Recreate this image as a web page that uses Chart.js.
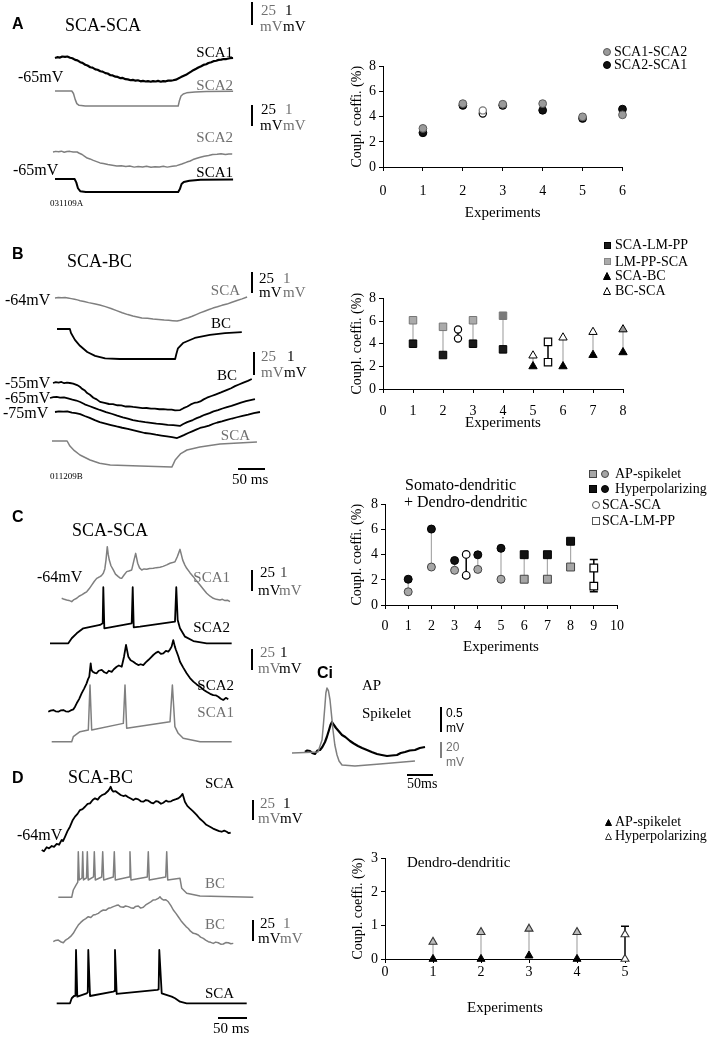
<!DOCTYPE html>
<html>
<head>
<meta charset="utf-8">
<script src="https://cdn.jsdelivr.net/npm/chart.js@4.4.1/dist/chart.umd.min.js"></script>
<style>
  html, body { margin: 0; padding: 0; background: #fff; }
  #fig { position: relative; width: 709px; height: 1039px; overflow: hidden; font-family: 'Liberation Serif', 'Times New Roman', serif; color: #000; }
  #fig canvas { position: absolute; }
  .t { position: absolute; white-space: nowrap; line-height: 1; }
  .bar { position: absolute; }
  svg.mk { position: absolute; overflow: visible; }
</style>
</head>
<body>
<div id="fig"></div>
<script>
// ---- recorded traces: [time (ms), deflection from baseline (mV)] ----
const aSca1Hyp = [[0,0],[4,0.04],[9,0.02],[13,0.07],[18,0.05],[22,0.07],[27,0.01],[31,-0.01],[36,-0.09],[40,-0.11],[45,-0.2],[49,-0.23],[54,-0.32],[58,-0.36],[63,-0.44],[67,-0.46],[72,-0.54],[76,-0.56],[81,-0.63],[85,-0.65],[90,-0.72],[94,-0.74],[99,-0.82],[103,-0.83],[108,-0.89],[112,-0.9],[117,-0.96],[121,-0.95],[126,-1.01],[130,-1.02],[135,-1.06],[139,-1.04],[144,-1.08],[148,-1.06],[153,-1.11],[157,-1.09],[162,-1.12],[166,-1.1],[171,-1.13],[175,-1.1],[180,-1.12],[184,-1.09],[189,-1.13],[193,-1.1],[198,-1.11],[202,-1.08],[207,-1.08],[211,-1.06],[216,-1.03],[220,-0.98],[225,-0.91],[229,-0.86],[234,-0.8],[238,-0.73],[243,-0.65],[247,-0.58],[252,-0.51],[256,-0.45],[261,-0.39],[265,-0.33],[270,-0.3],[274,-0.24],[279,-0.2],[283,-0.15],[288,-0.13],[292,-0.09],[297,-0.08],[301,-0.05],[306,-0.05],[312,-0.01],[318,0]];
const aSca2Step = [[0,0],[30,0],[33,-3],[36,-10],[39,-15],[43,-17],[54,-17.9],[220,-17.9],[222,-12],[225,-6],[229,-3.5],[235,-2.2],[250,-1.2],[270,-0.6],[318,-0.2]];
const aSca2Hyp = [[0,0],[5,0.03],[10,0.01],[15,0.04],[20,-0.01],[25,0.02],[30,0.03],[36,0],[43,0],[47,-0.06],[52,-0.12],[56,-0.2],[61,-0.29],[66,-0.33],[72,-0.4],[78,-0.46],[84,-0.52],[90,-0.55],[98,-0.6],[106,-0.63],[114,-0.67],[122,-0.65],[130,-0.69],[137,-0.67],[145,-0.72],[152,-0.69],[160,-0.71],[167,-0.68],[175,-0.73],[182,-0.7],[190,-0.71],[197,-0.68],[204,-0.72],[213,-0.68],[221,-0.65],[230,-0.57],[239,-0.48],[245,-0.43],[250,-0.36],[257,-0.3],[263,-0.25],[270,-0.2],[278,-0.17],[285,-0.12],[293,-0.11],[300,-0.08],[308,-0.12],[314,-0.09],[320,-0.1]];
const aSca1Step = [[0,0],[35,0],[38,-4],[41,-11],[45,-14.5],[55,-15.5],[220,-15.5],[223,-12],[226,-6],[230,-3.5],[240,-2],[260,-1],[318,-0.5]];

const bScaTop = [[0,0],[6,0.02],[12,0.01],[18,0.02],[23,0],[29,-0.03],[35,-0.06],[40,-0.09],[45,-0.13],[52,-0.17],[60,-0.22],[70,-0.27],[80,-0.33],[90,-0.41],[100,-0.5],[110,-0.6],[120,-0.7],[130,-0.79],[139,-0.86],[147,-0.9],[155,-0.95],[165,-0.97],[175,-1.0],[185,-1.02],[195,-1.05],[203,-1.06],[210,-1.08],[218,-1.1],[224,-1.06],[230,-1.0],[238,-0.94],[245,-0.87],[252,-0.79],[259,-0.71],[267,-0.63],[275,-0.55],[282,-0.48],[290,-0.42],[298,-0.35],[307,-0.29],[316,-0.2],[325,-0.12],[334,-0.04],[343,0.05]];
const bBcStep = [[0,0],[23,0],[25,-4.8],[32,-13],[41,-20],[54,-27.4],[68,-32],[86,-35],[112,-35.7],[211,-35.7],[213,-30],[216,-23],[225,-16.7],[246,-10.7],[273,-7.1],[300,-4.8],[330,-3.6]];
const bBc55 = [[0,0],[5,0.04],[10,0.02],[15,0.05],[20,-0.01],[25,0.02],[30,0],[36,-0.03],[43,-0.1],[48,-0.18],[52,-0.28],[57,-0.36],[61,-0.48],[66,-0.56],[72,-0.7],[78,-0.78],[84,-0.9],[92,-0.95],[100,-1.0],[107,-1.01],[115,-1.06],[122,-1.07],[130,-1.12],[136,-1.11],[143,-1.14],[150,-1.16],[160,-1.2],[167,-1.19],[175,-1.22],[182,-1.22],[190,-1.25],[197,-1.24],[205,-1.27],[212,-1.27],[218,-1.3],[227,-1.29],[233,-1.2],[240,-1.12],[246,-1.02],[252,-0.95],[258,-0.92],[263,-0.88],[269,-0.78],[275,-0.7],[283,-0.62],[290,-0.55],[300,-0.45],[311,-0.33],[318,-0.25],[325,-0.15],[332,-0.07],[340,0.02],[348,0.1],[355,0.19]];
const bBc65 = [[0,0],[6,0.04],[12,0.05],[18,0.02],[25,0.03],[32,-0.02],[40,-0.08],[47,-0.12],[54,-0.19],[62,-0.3],[70,-0.38],[80,-0.48],[89,-0.57],[100,-0.67],[110,-0.75],[120,-0.84],[130,-0.92],[139,-0.98],[148,-1.05],[158,-1.1],[170,-1.15],[180,-1.18],[190,-1.22],[200,-1.24],[210,-1.28],[220,-1.29],[232,-1.33],[238,-1.24],[245,-1.15],[250,-1.1],[255,-1.05],[262,-0.96],[268,-0.9],[276,-0.8],[285,-0.72],[292,-0.64],[300,-0.58],[308,-0.5],[316,-0.43],[324,-0.37],[332,-0.3],[341,-0.22],[350,-0.15],[358,-0.1],[366,-0.05]];
const bBc75 = [[0,0],[7,0.03],[15,0.02],[22,0.03],[30,-0.03],[37,-0.05],[45,-0.1],[53,-0.19],[62,-0.28],[71,-0.39],[80,-0.48],[90,-0.55],[100,-0.62],[110,-0.69],[120,-0.75],[130,-0.8],[139,-0.86],[150,-0.93],[160,-1.0],[170,-1.03],[180,-1.08],[190,-1.12],[200,-1.16],[209,-1.2],[218,-1.24],[224,-1.17],[230,-1.1],[238,-1.0],[245,-0.92],[252,-0.84],[259,-0.76],[267,-0.71],[275,-0.65],[283,-0.56],[290,-0.5],[298,-0.45],[307,-0.38],[316,-0.31],[325,-0.25],[335,-0.18],[345,-0.12],[355,-0.05],[366,0]];
const bScaBottom = [[0,0],[27,0],[32,-6],[40,-11.5],[50,-16.7],[68,-22.6],[85,-26.5],[104,-28.6],[157,-29.8],[214,-31],[217,-27],[220,-22.6],[230,-15],[241,-10.7],[264,-7.1],[300,-3.6],[366,-1.2]];

const cSca1Top = [[0,0],[4.5,-0.05],[8.9,-0.08],[13,-0.1],[17.9,-0.16],[22,-0.06],[26.8,0],[31,0.1],[35.7,0.16],[40,0.24],[44.6,0.31],[49,0.45],[53.6,0.63],[58,0.8],[62.5,0.95],[66,1.0],[68.4,1.03],[71,1.08],[74.3,1.19],[77,1.4],[79.1,1.82],[81.4,2.46],[83,2.1],[85,1.82],[88,1.55],[92.1,1.35],[96,1.15],[101.1,1.03],[104,0.97],[107.1,0.95],[111,1.1],[116.1,1.27],[120,1.3],[125,1.35],[129.1,1.82],[132.1,2.14],[135.7,1.67],[139,1.45],[142.9,1.35],[147,1.4],[151.8,1.38],[157,1.42],[163.6,1.43],[169,1.46],[175.5,1.48],[181,1.52],[187.5,1.59],[193.4,1.67],[198,1.7],[202.3,1.74],[206.4,1.98],[211.3,2.33],[216.1,1.82],[220,1.58],[223.2,1.43],[229,1.22],[235,1.03],[241,0.82],[247,0.63],[253,0.43],[258.9,0.24],[265,0.1],[270.7,0],[276,-0.05],[282.7,-0.08],[287,-0.05],[291.6,-0.11],[296,-0.09],[300.5,-0.16]];
const cSca2Spk = [[0,0],[32.7,0],[38.8,6],[47.7,11.9],[59.5,17.9],[89.3,21.8],[94.1,23.8],[95.2,66.7],[97,17.9],[107.1,19],[145.9,23.8],[147.7,66.7],[149.5,19],[160.7,19.8],[223.2,25.8],[225.5,66.7],[228,27.8],[232.1,17.9],[241.1,7.9],[256,2.7],[279.8,0],[324.4,0]];
const cSca2Hyp = [[0,0],[4,0.05],[8.9,0.08],[13,0.02],[17.9,0],[22,0.06],[26.8,0.08],[31,0.02],[35.7,0],[40,0.06],[44.6,0.11],[48,0.25],[50.7,0.4],[55,0.6],[59.5,0.87],[64,1.1],[68.4,1.35],[71,1.55],[73.2,1.67],[75.7,2.3],[77,2.0],[79.3,1.9],[83,1.85],[86.4,1.83],[90,1.95],[95.4,1.99],[100,1.88],[104.3,1.83],[108,1.95],[113.2,1.9],[117,2.02],[122.1,2.14],[126,2.2],[131.1,2.14],[135.2,2.62],[138.8,3.18],[142.9,2.62],[147,2.45],[151.8,2.38],[156,2.3],[160.7,2.22],[165,2.26],[169.6,2.22],[174,2.35],[178.6,2.46],[183,2.58],[187.5,2.7],[192,2.8],[196.4,2.86],[201,2.75],[205.4,2.78],[210,2.9],[214.3,2.86],[217,2.95],[220.2,3.1],[223.2,3.41],[226,3.1],[228,2.94],[232,2.65],[235.2,2.38],[241,2.1],[247,1.83],[253,1.6],[259,1.43],[265,1.3],[270.9,1.19],[277,1.05],[282.7,0.95],[289,0.85],[294.6,0.79],[299,0.78],[303.6,0.71],[308,0.62],[312.5,0.56],[317,0.66],[321.4,0.59]];
const cSca1Spk = [[0,0],[35.7,0],[38.6,6],[50.5,11.9],[65.4,13.9],[68.4,67.5],[71.4,13.9],[127.9,21.8],[130.9,67.5],[133.9,15.9],[211.3,23.8],[215.5,67.5],[220,17.9],[225.9,10],[234.8,4],[265,0],[321.4,0]];

const ciAp = [[0,0],[46.4,1.25],[53.6,16.25],[56,35],[58.9,60],[60.5,75],[62.5,81.25],[65,78],[67.9,66.25],[70.5,48],[73.2,28.75],[76.5,10],[80.4,-2.5],[84,-10],[89.3,-15],[112.5,-16.25],[157.1,-13.75],[219.6,-10]];
const ciSpikelet = [[0,0],[4,0.03],[8.9,0.02],[13,-0.02],[17.9,-0.04],[22,0.03],[26.8,0.04],[31,0.1],[35.7,0.2],[39,0.3],[42.9,0.44],[45.5,0.54],[48.2,0.6],[51,0.55],[55.4,0.48],[60,0.42],[66.1,0.34],[72,0.3],[80.4,0.22],[87,0.17],[94.6,0.12],[102,0.08],[110.7,0.04],[119,0.0],[128.6,-0.04],[137,-0.06],[146.4,-0.08],[155,-0.07],[164.3,-0.06],[171,-0.02],[178.6,0],[187,0.03],[196.4,0.04],[205,0.08],[214.3,0.1]];

const dScaTop = [[0,0],[4,-0.06],[8.9,0.13],[13,0.08],[17.9,0.19],[22,0.15],[26.8,0.29],[31,0.25],[35.7,0.48],[38,0.42],[41.6,0.63],[46,0.9],[50.5,1.11],[55,1.4],[59.5,1.59],[64,1.72],[68.4,1.9],[73,1.95],[77.3,2.06],[82,2.2],[86.3,2.22],[91,2.38],[95.2,2.46],[100,2.4],[104.1,2.54],[108,2.62],[113,2.67],[116,2.75],[118.9,2.82],[121,2.9],[123.2,3.01],[125.5,2.85],[127.9,2.78],[132,2.8],[136.8,2.7],[141,2.62],[145.7,2.57],[150,2.6],[154.6,2.51],[159,2.45],[163.6,2.38],[168,2.45],[172.5,2.41],[177,2.32],[181.4,2.3],[186,2.38],[190.4,2.35],[195,2.26],[199.3,2.22],[204,2.33],[208.2,2.3],[213,2.2],[217.1,2.25],[222,2.35],[226.1,2.3],[231,2.32],[235,2.38],[240,2.42],[243.9,2.46],[248,2.55],[251.6,2.67],[253.5,2.5],[255.7,2.3],[260,2.1],[264.6,1.98],[270,1.85],[276.6,1.67],[282,1.5],[288.4,1.35],[294,1.2],[300.5,1.11],[306,1.02],[312.5,0.95],[317,0.9],[321.4,0.87],[326,0.92],[330.4,0.87],[334,0.8],[337.5,0.83]];
const dBcSpk = [[0,0],[23.9,0],[26.8,8.7],[31.6,14.6],[34.8,18],[35.7,54.3],[37.5,20.6],[42.3,23],[43.6,54.3],[45,20.6],[50.4,23],[51.8,54.3],[53.4,20.6],[62.9,24.2],[64.3,54.3],[66.1,20.6],[77.5,24.2],[79.3,54.3],[81.1,20.6],[98.2,24.2],[100,54.3],[101.8,20.6],[126.3,24.2],[128,54.3],[129.8,20.6],[158.9,24.2],[160.7,54.3],[162.5,20.6],[191.8,24.2],[193.6,54.3],[195.4,20.6],[217.3,22.6],[220.4,10.7],[229.3,4.8],[253,1.5],[348.2,0]];
const dBcHyp = [[0,0],[4,0.06],[8.9,0.08],[13,0.0],[17.9,-0.05],[22,0.08],[26.8,0.16],[31,0.25],[35.7,0.4],[40,0.6],[44.6,0.79],[49,0.92],[53.6,1.03],[58,1.1],[62.5,1.19],[67,1.15],[71.4,1.27],[76,1.3],[80.4,1.35],[85,1.45],[89.3,1.51],[94,1.5],[98.2,1.59],[103,1.62],[107.1,1.67],[112,1.72],[116.1,1.75],[120,1.66],[125,1.64],[129,1.7],[133.9,1.67],[138,1.62],[142.9,1.59],[147,1.68],[151.8,1.7],[156,1.6],[160.7,1.64],[165,1.75],[169.6,1.83],[174,1.9],[178.6,1.99],[183,2.0],[187.5,2.06],[190.5,2.14],[193,2.05],[196.4,1.99],[201,2.0],[205.4,1.9],[210,1.72],[214.3,1.51],[219,1.35],[223.2,1.19],[228,1.0],[232.1,0.87],[237,0.72],[241.1,0.63],[245,0.5],[250,0.4],[254,0.38],[258.9,0.32],[263,0.22],[267.9,0.16],[272,0.08],[276.8,0],[281,-0.03],[285.7,-0.08],[290,-0.02],[294.6,-0.05],[299,-0.12],[303.6,-0.11],[308,-0.04],[312.5,-0.05],[317,-0.1],[321.4,-0.08]];
const dScaSpk = [[0,0],[23.8,0],[26.8,6],[30.9,8.7],[33.5,9],[34.5,63.5],[36.8,7.9],[53.6,11.9],[55.5,13],[56.4,63.5],[59.5,8.7],[101,13.9],[103,14.5],[104.1,63.5],[107.1,11.1],[179.6,15.9],[182,16.5],[183.2,63.5],[187.5,11.9],[205.4,7.9],[211.3,6],[220.2,1.9],[232.1,0],[339.3,0]];

// ---- coupling coefficients (%) ----
const expA = [1, 2, 3, 4, 5, 6];
const aSca1Sca2 = [3.07, 5.04, 4.99, 5.04, 3.99, 4.15];
const aSca2Sca1 = [2.72, 4.9, 4.9, 4.51, 3.86, 4.6];
const aMeanX = 2.5;
const aMean = [4.5, 4.25];
const aMeanErr = [4.15, 4.62];

const expB1 = [1, 2, 3, 4];
const bScaLmpp = [4.0, 3.0, 4.0, 3.5];
const bLmppSca = [6.07, 5.49, 6.07, 6.47];
const expB2 = [5, 6, 7, 8];
const bScaBc = [2.0, 2.0, 3.0, 3.24];
const bBcSca = [2.95, 4.54, 5.03, 5.26];
const bMeanCircX = 2.5;
const bMeanCirc = [5.26, 4.45];
const bMeanCircErr = [4.15, 5.55];
const bMeanSqX = 5.5;
const bMeanSq = [4.16, 2.37];

const expC1 = [1, 2, 3, 4, 5];
const cApCirc = [1.05, 3.02, 2.76, 2.83, 2.05];
const cHypCirc = [2.05, 6.04, 3.54, 3.99, 4.51];
const expC2 = [6, 7, 8];
const cApSq = [2.05, 2.05, 3.02];
const cHypSq = [4.0, 4.0, 5.07];
const cMeanCircX = 3.5;
const cMeanCirc = [4.02, 2.36];
const cMeanCircErr = [2.2, 4.02];
const cMeanSqX = 9;
const cMeanSq = [2.94, 1.5];
const cMeanSqErr = [1.05, 3.62];

const expD = [1, 2, 3, 4];
const dApSpk = [0, 0, 0.1, 0];
const dHyp = [0.51, 0.8, 0.9, 0.8];
const dMeanX = 5;
const dMean = [0.73, 0];
const dMeanErr = [0, 0.98];

const yTicksCoupl = [0, 2, 4, 6, 8];
const yTicksDendro = [0, 1, 2, 3];

// ---- drawing ----
const SERIF = "'Liberation Serif', 'Times New Roman', serif";
const SANS = "'Liberation Sans', Arial, sans-serif";
const BLACK = '#000';
const GREY = '#7f7f7f';
const TGREY = '#707070';
const PX_PER_MS = 0.56;
const fig = document.getElementById('fig');

const traceLayout = [
  { data: aSca1Hyp, x0: 55, y0: 58, gain: 21, color: BLACK, w: 2.2 },
  { data: aSca2Step, x0: 55, y0: 91, gain: 0.84, color: GREY, w: 1.5 },
  { data: aSca2Hyp, x0: 53, y0: 152, gain: 21, color: GREY, w: 1.5 },
  { data: aSca1Step, x0: 55, y0: 179, gain: 0.84, color: BLACK, w: 2 },
  { data: bScaTop, x0: 55, y0: 298, gain: 21, color: GREY, w: 1.5 },
  { data: bBcStep, x0: 57, y0: 329, gain: 0.84, color: BLACK, w: 1.8 },
  { data: bBc55, x0: 53, y0: 383, gain: 21, color: BLACK, w: 1.8 },
  { data: bBc65, x0: 50, y0: 398, gain: 21, color: BLACK, w: 1.8 },
  { data: bBc75, x0: 55, y0: 412, gain: 21, color: BLACK, w: 1.8 },
  { data: bScaBottom, x0: 52, y0: 441, gain: 0.84, color: GREY, w: 1.5 },
  { data: cSca1Top, x0: 61.7, y0: 598.3, gain: 21, color: GREY, w: 1.5 },
  { data: cSca2Spk, x0: 50, y0: 643.3, gain: 0.84, color: BLACK, w: 1.8 },
  { data: cSca2Hyp, x0: 48.3, y0: 711.7, gain: 21, color: BLACK, w: 1.8 },
  { data: cSca1Spk, x0: 51.7, y0: 741.7, gain: 0.84, color: GREY, w: 1.5 },
  { data: ciAp, x0: 292, y0: 753, gain: 0.8, color: GREY, w: 1.5 },
  { data: ciSpikelet, x0: 305, y0: 752, gain: 50, color: BLACK, w: 2.2 },
  { data: dScaTop, x0: 41.7, y0: 850, gain: 21, color: BLACK, w: 1.8 },
  { data: dBcSpk, x0: 58.3, y0: 897.3, gain: 0.84, color: GREY, w: 1.5 },
  { data: dBcHyp, x0: 53.3, y0: 941.7, gain: 21, color: GREY, w: 1.5 },
  { data: dScaSpk, x0: 56.7, y0: 1003.3, gain: 0.84, color: BLACK, w: 1.8 },
];

function addCanvas(left, top, w, h) {
  const c = document.createElement('canvas');
  c.width = w; c.height = h;
  c.style.left = left + 'px'; c.style.top = top + 'px';
  c.style.width = w + 'px'; c.style.height = h + 'px';
  fig.appendChild(c);
  return c;
}

// traces: x in ms, y in page pixels (baseline + gain * mV)
const TRACE_W = 470, TRACE_H = 1039;
new Chart(addCanvas(0, 0, TRACE_W, TRACE_H), {
  type: 'line',
  data: {
    datasets: traceLayout.map(tr => ({
      data: tr.data.map(([t, v]) => ({ x: tr.x0 / PX_PER_MS + t, y: tr.y0 - v * tr.gain })),
      borderColor: tr.color, borderWidth: tr.w, pointRadius: 0, tension: 0, fill: false,
      borderJoinStyle: 'round',
    })),
  },
  options: {
    responsive: false, animation: false,
    layout: { padding: 0 },
    plugins: { legend: { display: false }, tooltip: { enabled: false } },
    scales: {
      x: { type: 'linear', display: false, min: 0, max: TRACE_W / PX_PER_MS },
      y: { type: 'linear', display: false, min: 0, max: TRACE_H, reverse: true },
    },
  },
});

// error bars drawn under the markers
const errBars = {
  id: 'errBars',
  beforeDatasetsDraw(chart) {
    const bars = chart.options.plugins.errBars.bars || [];
    const { ctx, scales: { x, y } } = chart;
    ctx.save();
    ctx.strokeStyle = '#000';
    ctx.lineWidth = 1.5;
    bars.forEach(b => {
      const px = x.getPixelForValue(b.x);
      const p1 = y.getPixelForValue(b.lo), p2 = y.getPixelForValue(b.hi);
      ctx.beginPath();
      ctx.moveTo(px, p1); ctx.lineTo(px, p2);
      if (b.capLo) { ctx.moveTo(px - 4, p1); ctx.lineTo(px + 4, p1); }
      if (b.capHi) { ctx.moveTo(px - 4, p2); ctx.lineTo(px + 4, p2); }
      ctx.stroke();
    });
    ctx.restore();
  },
};

function pts(xs, ys) { return xs.map((x, i) => ({ x, y: ys[i] })); }
function links(xs, lo, hi) {
  const out = [];
  xs.forEach((x, i) => { out.push({ x, y: lo[i] }, { x, y: hi[i] }, { x, y: null }); });
  return out;
}
function markers(data, style, r, fill, stroke, order, bw = 1) {
  return { data, pointStyle: style, pointRadius: r, backgroundColor: fill, borderColor: stroke,
    borderWidth: bw, showLine: false, clip: false, order };
}
function linkSet(data, color, w, order = 100) {
  return { data, showLine: true, pointRadius: 0, borderColor: color, borderWidth: w,
    spanGaps: false, clip: false, order };
}

function scatter(area, cfg) {
  const yW = 40, padT = 10, padR = 14;
  const w = yW + area.r - area.l + padR, h = padT + area.b - area.t + cfg.xAxisH;
  const c = addCanvas(area.l - yW, area.t - padT, w, h);
  const axisCommon = {
    grid: { drawOnChartArea: false, drawTicks: true, tickLength: 4, color: '#000', lineWidth: 1 },
    border: { display: true, color: '#000', width: 1 },
  };
  new Chart(c, {
    type: 'scatter',
    data: { datasets: cfg.datasets },
    plugins: [errBars],
    options: {
      responsive: false, animation: false,
      layout: { padding: { top: padT, right: padR, left: 0, bottom: 0 } },
      plugins: { legend: { display: false }, tooltip: { enabled: false }, errBars: { bars: cfg.bars } },
      scales: {
        x: Object.assign({}, axisCommon, {
          type: 'linear', min: 0, max: cfg.xMax,
          afterFit(a) { a.height = cfg.xAxisH; },
          ticks: { stepSize: 1, autoSkip: false, maxRotation: 0, color: '#000',
            font: { family: SERIF, size: 14 }, padding: cfg.xPad },
          title: { display: true, text: 'Experiments', color: '#000',
            font: { family: SERIF, size: 15 }, padding: { top: 0, bottom: 0 } },
        }),
        y: Object.assign({}, axisCommon, {
          type: 'linear', min: 0, max: cfg.yTicks[cfg.yTicks.length - 1],
          afterFit(a) { a.width = yW; },
          afterBuildTicks(a) { a.ticks = cfg.yTicks.map(v => ({ value: v })); },
          ticks: { color: '#000', font: { family: SERIF, size: 14 }, padding: 3 },
          title: { display: true, text: 'Coupl. coeffi. (%)', color: '#000',
            font: { family: SERIF, size: 14 }, padding: { top: cfg.yTitlePad, bottom: 0 } },
        }),
      },
    },
  });
}

// A
scatter({ l: 383, r: 624, t: 65, b: 167 }, {
  xMax: 6, yTicks: yTicksCoupl, xAxisH: 55, xPad: 12, yTitlePad: 5.6,
  bars: [{ x: aMeanX, lo: aMeanErr[0], hi: aMeanErr[1] }],
  datasets: [
    markers([{ x: aMeanX, y: aMean[0] }], 'circle', 3.6, '#fff', '#777', 0, 1.2),
    markers([{ x: aMeanX, y: aMean[1] }], 'circle', 3.6, '#fff', '#000', 1, 1.2),
    markers(pts(expA, aSca1Sca2), 'circle', 3.9, '#9a9a9a', '#5a5a5a', 2),
    markers(pts(expA, aSca2Sca1), 'circle', 3.9, '#111', '#000', 3),
  ],
});

// B
scatter({ l: 383, r: 623, t: 297, b: 389 }, {
  xMax: 8, yTicks: yTicksCoupl, xAxisH: 43, xPad: 10, yTitlePad: 5.6,
  bars: [{ x: bMeanCircX, lo: bMeanCircErr[0], hi: bMeanCircErr[1] },
         { x: bMeanSqX, lo: bMeanSq[1], hi: bMeanSq[0] }],
  datasets: [
    markers(pts([bMeanCircX, bMeanCircX], bMeanCirc), 'circle', 3.6, '#fff', '#000', 0, 1.2),
    markers(pts([bMeanSqX, bMeanSqX], bMeanSq), 'rect', 5.2, '#fff', '#000', 1, 1.2),
    markers(pts(expB1, bLmppSca), 'rect', 5.3, ['#aaa', '#aaa', '#aaa', '#7a7a7a'], '#777', 2),
    markers(pts(expB1, bScaLmpp), 'rect', 5.3, '#1a1a1a', '#000', 3),
    markers(pts(expB2, bBcSca), 'triangle', 4.8, ['#fff', '#fff', '#fff', '#999'], '#000', 4),
    markers(pts(expB2, bScaBc), 'triangle', 4.8, '#000', '#000', 5),
    linkSet(links(expB1.concat(expB2), bScaLmpp.concat(bScaBc), bLmppSca.concat(bBcSca)), '#aaa', 1.2),
  ],
});

// C
scatter({ l: 385, r: 619, t: 503, b: 605 }, {
  xMax: 10, yTicks: yTicksCoupl, xAxisH: 51, xPad: 9, yTitlePad: 3.6,
  bars: [{ x: cMeanCircX, lo: cMeanCircErr[0], hi: cMeanCircErr[1], capLo: true },
         { x: cMeanSqX, lo: cMeanSqErr[0], hi: cMeanSqErr[1], capLo: true, capHi: true }],
  datasets: [
    markers(pts([cMeanCircX, cMeanCircX], cMeanCirc), 'circle', 3.8, '#fff', '#000', 0, 1.2),
    markers(pts([cMeanSqX, cMeanSqX], cMeanSq), 'rect', 5.4, '#fff', '#000', 1, 1.2),
    markers(pts(expC1, cApCirc), 'circle', 4, '#a6a6a6', '#444', 2),
    markers(pts(expC1, cHypCirc), 'circle', 4, '#111', '#000', 3),
    markers(pts(expC2, cApSq), 'rect', 5.6, '#a6a6a6', '#444', 4),
    markers(pts(expC2, cHypSq), 'rect', 5.6, '#111', '#000', 5),
    linkSet(links(expC1.concat(expC2), cApCirc.concat(cApSq), cHypCirc.concat(cHypSq)), '#aaa', 1.2),
  ],
});

// D
scatter({ l: 385, r: 625, t: 857, b: 959 }, {
  xMax: 5, yTicks: yTicksDendro, xAxisH: 58, xPad: 1, yTitlePad: 4.6,
  bars: [{ x: dMeanX, lo: dMeanErr[0], hi: dMeanErr[1], capHi: true }],
  datasets: [
    markers(pts([dMeanX, dMeanX], dMean), 'triangle', 4.6, '#fff', '#333', 0, 1.1),
    markers(pts(expD, dHyp), 'triangle', 4.6, '#bbb', '#333', 1, 1.1),
    markers(pts(expD, dApSpk), 'triangle', 4.6, '#000', '#000', 2),
    linkSet(links(expD, dApSpk, dHyp), '#aaa', 1.2),
  ],
});

// ---- text, scale bars, legends ----
function txt(s, x, y, o = {}) {
  const d = document.createElement('div');
  d.className = 't';
  d.textContent = s;
  d.style.left = x + 'px';
  d.style.top = y + 'px';
  d.style.fontFamily = o.sans ? SANS : SERIF;
  d.style.fontSize = (o.size || 15) + 'px';
  d.style.fontWeight = o.bold ? 'bold' : 'normal';
  d.style.color = o.grey ? TGREY : (o.color || '#000');
  d.style.transform = o.right ? 'translate(-100%,-50%)' : 'translate(0,-50%)';
  fig.appendChild(d);
}
function vbar(x, y1, y2, color = '#000', w = 2) {
  const d = document.createElement('div');
  d.className = 'bar';
  Object.assign(d.style, { left: (x - w / 2) + 'px', top: y1 + 'px', width: w + 'px', height: (y2 - y1) + 'px', background: color });
  fig.appendChild(d);
}
function hbar(x1, x2, y, color = '#000', w = 2) {
  const d = document.createElement('div');
  d.className = 'bar';
  Object.assign(d.style, { left: x1 + 'px', top: (y - w / 2) + 'px', width: (x2 - x1) + 'px', height: w + 'px', background: color });
  fig.appendChild(d);
}
const NS = 'http://www.w3.org/2000/svg';
function mark(shape, cx, cy, s, fill, stroke) {
  const svg = document.createElementNS(NS, 'svg');
  svg.setAttribute('class', 'mk');
  svg.setAttribute('width', s); svg.setAttribute('height', s);
  svg.style.left = (cx - s / 2) + 'px'; svg.style.top = (cy - s / 2) + 'px';
  let el;
  if (shape === 'circle') {
    el = document.createElementNS(NS, 'circle');
    el.setAttribute('cx', s / 2); el.setAttribute('cy', s / 2); el.setAttribute('r', s / 2 - 0.5);
  } else if (shape === 'square') {
    el = document.createElementNS(NS, 'rect');
    el.setAttribute('x', 0.5); el.setAttribute('y', 0.5); el.setAttribute('width', s - 1); el.setAttribute('height', s - 1);
  } else {
    el = document.createElementNS(NS, 'polygon');
    el.setAttribute('points', `${s / 2},0.5 ${s - 0.5},${s - 0.5} 0.5,${s - 0.5}`);
  }
  el.setAttribute('fill', fill); el.setAttribute('stroke', stroke); el.setAttribute('stroke-width', 1);
  svg.appendChild(el);
  fig.appendChild(svg);
}

// panel letters and titles
[['A', 12, 24], ['B', 12, 254], ['C', 12, 517], ['D', 12, 778], ['Ci', 317, 673]]
  .forEach(([s, x, y]) => txt(s, x, y, { sans: true, bold: true, size: 16 }));
[['SCA-SCA', 65, 25], ['SCA-BC', 67, 261], ['SCA-SCA', 72, 530], ['SCA-BC', 68, 777]]
  .forEach(([s, x, y]) => txt(s, x, y, { size: 18 }));

// A
txt('SCA1', 233, 52, { right: true });
txt('-65mV', 18, 77, { size: 16 });
txt('SCA2', 233, 85, { right: true, grey: true });
txt('SCA2', 233, 137, { right: true, grey: true });
txt('-65mV', 13, 170, { size: 16 });
txt('SCA1', 233, 172, { right: true });
txt('031109A', 50, 203, { size: 9 });
vbar(252, 2, 25); vbar(252, 105, 126);
txt('25', 261, 10, { grey: true }); txt('mV', 260, 26, { grey: true });
txt('1', 285, 10); txt('mV', 283, 26);
txt('25', 261, 109); txt('mV', 260, 125);
txt('1', 285, 109, { grey: true }); txt('mV', 283, 125, { grey: true });

// B
txt('-64mV', 5, 300, { size: 16 });
txt('SCA', 240, 290, { right: true, grey: true });
vbar(252, 272, 293); vbar(254, 352, 375);
txt('25', 259, 278); txt('mV', 259, 292);
txt('1', 283, 278, { grey: true }); txt('mV', 283, 292, { grey: true });
txt('BC', 231, 323, { right: true });
txt('25', 261, 356, { grey: true }); txt('mV', 261, 372, { grey: true });
txt('1', 287, 356); txt('mV', 284, 372);
txt('BC', 237, 375, { right: true });
txt('-55mV', 5, 383, { size: 16 }); txt('-65mV', 5, 398, { size: 16 }); txt('-75mV', 3, 413, { size: 16 });
txt('SCA', 250, 435, { right: true, grey: true });
txt('011209B', 50, 476, { size: 9 });
hbar(238, 265, 469); txt('50 ms', 232, 479);

// C
txt('-64mV', 37, 577, { size: 16 });
txt('SCA1', 230, 577, { right: true, grey: true });
vbar(252, 570, 591); vbar(252, 649, 670);
txt('25', 260, 572); txt('1', 280, 572, { color: '#444' });
txt('mV', 258, 590); txt('mV', 279, 590, { grey: true });
txt('SCA2', 230, 627, { right: true });
txt('25', 260, 652, { grey: true }); txt('1', 280, 652);
txt('mV', 258, 668, { grey: true }); txt('mV', 279, 668);
txt('SCA2', 234, 685, { right: true });
txt('SCA1', 234, 712, { right: true, grey: true });
txt('AP', 362, 685); txt('Spikelet', 362, 713);
vbar(441, 707, 732, '#000', 1.5); vbar(441, 742, 758, GREY, 1.5);
txt('0.5', 446, 713, { sans: true, size: 12 }); txt('mV', 446, 728, { sans: true, size: 12 });
txt('20', 446, 747, { sans: true, size: 12, grey: true }); txt('mV', 446, 762, { sans: true, size: 12, grey: true });
hbar(407, 433, 775); txt('50ms', 407, 784, { size: 14 });

// D
txt('SCA', 205, 783);
vbar(253, 800, 820); vbar(253, 920, 941);
txt('25', 260, 803, { grey: true }); txt('1', 283, 803);
txt('mV', 258, 818, { grey: true }); txt('mV', 280, 818);
txt('-64mV', 17, 835, { size: 16 });
txt('BC', 205, 883, { grey: true });
txt('BC', 205, 924, { grey: true });
txt('25', 260, 923); txt('1', 283, 923, { grey: true });
txt('mV', 258, 938); txt('mV', 280, 938, { grey: true });
txt('SCA', 205, 993);
hbar(218, 247, 1018); txt('50 ms', 213, 1028);

// scatter annotations and legends
txt('Somato-dendritic', 405, 485, { size: 16 });
txt('+ Dendro-dendritic', 404, 502, { size: 16 });
txt('Dendro-dendritic', 407, 862, { size: 15 });

mark('circle', 607, 52, 8, '#9a9a9a', '#5a5a5a'); txt('SCA1-SCA2', 614, 52, { size: 14 });
mark('circle', 607, 65, 8, '#111', '#000'); txt('SCA2-SCA1', 614, 65, { size: 14 });

mark('square', 607, 245, 7, '#1a1a1a', '#000'); txt('SCA-LM-PP', 615, 245, { size: 14 });
mark('square', 607, 261.5, 7, '#aaa', '#888'); txt('LM-PP-SCA', 615, 261.5, { size: 14 });
mark('triangle', 607, 276, 8, '#000', '#000'); txt('SCA-BC', 615, 276, { size: 14 });
mark('triangle', 607, 291, 8, '#fff', '#000'); txt('BC-SCA', 615, 291, { size: 14 });

mark('square', 593, 474, 8, '#a6a6a6', '#444'); mark('circle', 605, 474, 8, '#a6a6a6', '#444');
txt('AP-spikelet', 615, 474, { size: 14 });
mark('square', 593, 488.5, 8, '#111', '#000'); mark('circle', 605, 488.5, 8, '#111', '#000');
txt('Hyperpolarizing', 615, 488.5, { size: 14 });
mark('circle', 596, 504.5, 8, '#fff', '#555'); txt('SCA-SCA', 602, 504.5, { size: 14 });
mark('square', 596, 521, 8, '#fff', '#555'); txt('SCA-LM-PP', 602, 521, { size: 14 });

mark('triangle', 608, 822, 7, '#000', '#000'); txt('AP-spikelet', 615, 822, { size: 14 });
mark('triangle', 608, 836, 7, '#fff', '#333'); txt('Hyperpolarizing', 615, 836, { size: 14 });
</script>
</body>
</html>
